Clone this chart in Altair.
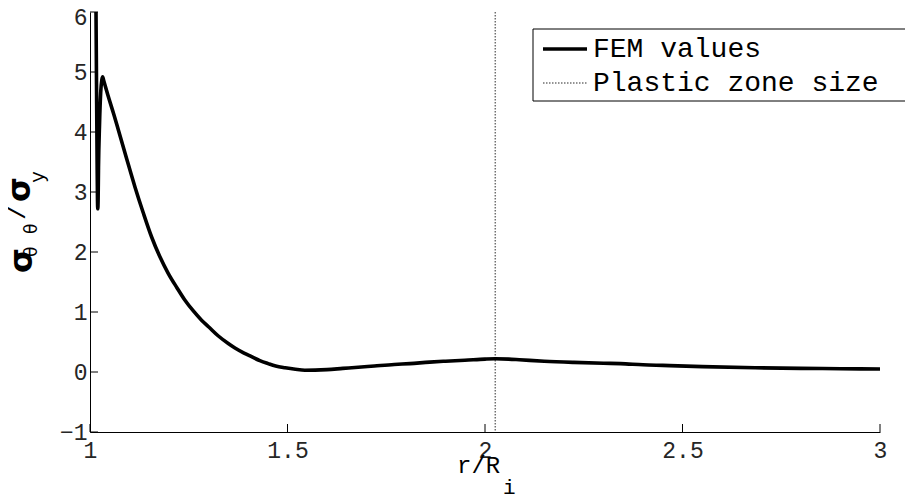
import altair as alt
import pandas as pd

# FEM curve (r/R_i, sigma_theta_theta / sigma_y)
r_vals = [1.0140, 1.0152, 1.0165, 1.0180, 1.0190, 1.0197, 1.0205, 1.0215, 1.0240, 1.0270,
          1.0300, 1.0320, 1.0350, 1.0450, 1.0600, 1.072, 1.093, 1.114, 1.135, 1.156,
          1.177, 1.198, 1.220, 1.240, 1.260, 1.283, 1.300, 1.325, 1.350, 1.367,
          1.390, 1.409, 1.430, 1.451, 1.470, 1.494, 1.520, 1.544, 1.570, 1.600,
          1.640, 1.671, 1.720, 1.770, 1.810, 1.860, 1.900, 1.949, 2.000, 2.026,
          2.060, 2.087, 2.150, 2.225, 2.300, 2.343, 2.400, 2.450, 2.550, 2.684,
          2.800, 2.900, 3.000]
s_vals = [6.8, 6.0, 4.8, 3.5, 2.85, 2.72, 2.85, 3.4, 4.1, 4.65,
          4.87, 4.92, 4.85, 4.62, 4.30, 4.03, 3.55, 3.08, 2.65, 2.25,
          1.92, 1.645, 1.405, 1.20, 1.03, 0.86, 0.755, 0.60, 0.475, 0.40,
          0.315, 0.255, 0.19, 0.14, 0.10, 0.07, 0.045, 0.03, 0.032, 0.04,
          0.06, 0.075, 0.10, 0.125, 0.14, 0.165, 0.18, 0.195, 0.215, 0.22,
          0.215, 0.205, 0.18, 0.16, 0.145, 0.14, 0.12, 0.11, 0.09, 0.07,
          0.06, 0.055, 0.05]

plastic_zone = [2.026]
x_ticks = [1, 1.5, 2, 2.5, 3]
y_ticks = [-1, 0, 1, 2, 3, 4, 5, 6]
legend_labels = ["FEM values", "Plastic zone size"]

W, H = 790, 420
MONO = "Liberation Mono"
LABEL_COLOR = "#262626"

xs = alt.Scale(domain=[1, 3], nice=False, zero=False)
ys = alt.Scale(domain=[-1, 6], nice=False, zero=False)

x_axis = alt.Axis(
    values=x_ticks, format="~g", ticks=False, grid=False, title=None,
    labelFont=MONO, labelFontSize=23, labelColor=LABEL_COLOR, labelPadding=7,
    labelFlush=False, labelOverlap=False, domainColor="black", domainWidth=1)
y_axis = alt.Axis(
    values=y_ticks, format="~g", ticks=False, grid=False, title=None,
    labelFont=MONO, labelFontSize=23, labelColor=LABEL_COLOR, labelPadding=3,
    labelOffset={"condition": {"test": "datum.value == 6", "value": 5}, "value": 0},
    labelFlush=False, labelOverlap=False, domainColor="black", domainWidth=1)

curve_df = pd.DataFrame({"r": r_vals, "s": s_vals})
pz_df = pd.DataFrame({"r": plastic_zone})
xt_df = pd.DataFrame({"r": x_ticks})
yt_df = pd.DataFrame({"s": y_ticks})
one = pd.DataFrame({"a": [0]})

curve = alt.Chart(curve_df).mark_line(
    color="black", strokeWidth=3.6, clip=True, strokeJoin="round", strokeCap="round",
    interpolate="monotone"
).encode(
    x=alt.X("r:Q", scale=xs, axis=x_axis),
    y=alt.Y("s:Q", scale=ys, axis=y_axis),
    order=alt.Order("r:Q"),
)

pz = alt.Chart(pz_df).mark_rule(color="#707070", strokeWidth=1.5, strokeDash=[1.5, 1.5]).encode(
    x=alt.X("r:Q", scale=xs, axis=x_axis)
)

xtick = alt.Chart(xt_df).mark_rule(color="black", strokeWidth=1).encode(
    x=alt.X("r:Q", scale=xs, axis=x_axis),
    y=alt.value(H), y2=alt.value(H - 8),
)
ytick = alt.Chart(yt_df).mark_rule(color="black", strokeWidth=1).encode(
    y=alt.Y("s:Q", scale=ys, axis=y_axis),
    x=alt.value(0), x2=alt.value(8),
)

# ---- y-axis title: sigma_{theta theta} / sigma_y (rotated pieces) ----
def rtext(txt, x, y, font, size, weight="normal"):
    return alt.Chart(one).mark_text(
        text=txt, angle=270, align="left", baseline="alphabetic",
        font=font, fontSize=size, fontWeight=weight, color="black"
    ).encode(x=alt.value(x), y=alt.value(y))

ytitle = [
    rtext("σ", -58, 261, "DejaVu Sans", 32, "bold"),
    rtext("θ", -53, 245, "DejaVu Sans", 17),
    rtext("θ", -53, 222, "DejaVu Sans", 17),
    rtext("/", -65, 208, MONO, 26),
    rtext("σ", -60, 190, "DejaVu Sans", 32, "bold"),
    rtext("y", -46, 171, MONO, 20),
]

# ---- x-axis title: r/R_i ----
def htext(txt, x, y, font, size, align="left"):
    return alt.Chart(one).mark_text(
        text=txt, align=align, baseline="alphabetic",
        font=font, fontSize=size, color="black"
    ).encode(x=alt.value(x), y=alt.value(y))

xtitle = [
    htext("r/R", 367, 461, MONO, 24),
    htext("i", 413, 482, MONO, 21),
]

# ---- legend box ----
LX0, LY0, LX1, LY1 = 443, 17, 823, 89
legend_box = alt.Chart(one).mark_rect(fill="white", stroke="black", strokeWidth=1).encode(
    x=alt.value(LX0), x2=alt.value(LX1), y=alt.value(LY0), y2=alt.value(LY1)
)
leg_line1 = alt.Chart(one).mark_rule(color="black", strokeWidth=3.6).encode(
    x=alt.value(LX0 + 10), x2=alt.value(LX0 + 54), y=alt.value(37)
)
leg_line2 = alt.Chart(one).mark_rule(color="#707070", strokeWidth=1.5, strokeDash=[1.5, 1.5]).encode(
    x=alt.value(LX0 + 10), x2=alt.value(LX0 + 54), y=alt.value(71)
)
leg_t1 = alt.Chart(one).mark_text(
    text=legend_labels[0], align="left", baseline="middle", font=MONO, fontSize=28, color="black"
).encode(x=alt.value(LX0 + 60), y=alt.value(37))
leg_t2 = alt.Chart(one).mark_text(
    text=legend_labels[1], align="left", baseline="middle", font=MONO, fontSize=28, color="black"
).encode(x=alt.value(LX0 + 60), y=alt.value(71))

chart = alt.layer(
    pz, curve, xtick, ytick, *ytitle, *xtitle,
    legend_box, leg_line1, leg_line2, leg_t1, leg_t2
).properties(
    width=W, height=H,
    background="white",
    autosize=alt.AutoSizeParams(type="none"),
    padding={"left": 82, "top": 4, "right": 25, "bottom": 64},
).configure_view(stroke=None)

chart.save("out.html", embed_options={"renderer": "svg", "actions": False})
